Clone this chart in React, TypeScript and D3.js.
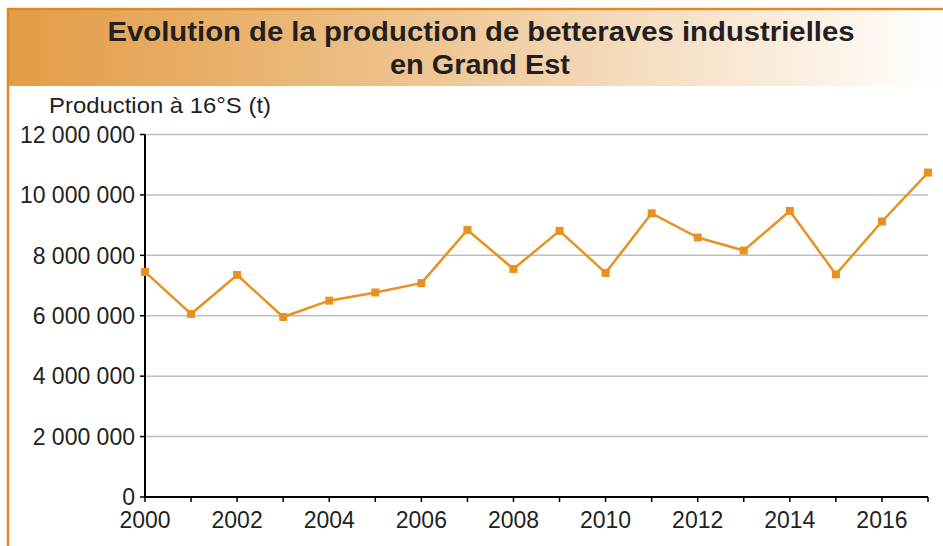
import React from "react";
import * as d3 from "d3";

const years = [2000, 2001, 2002, 2003, 2004, 2005, 2006, 2007, 2008, 2009, 2010, 2011, 2012, 2013, 2014, 2015, 2016, 2017];
const production = [7450000, 6060000, 7350000, 5960000, 6500000, 6770000, 7080000, 8840000, 7550000, 8810000, 7420000, 9390000, 8590000, 8160000, 9470000, 7370000, 9120000, 10740000];
const yTicks = [0, 2000000, 4000000, 6000000, 8000000, 10000000, 12000000];
const xLabelYears = [2000, 2002, 2004, 2006, 2008, 2010, 2012, 2014, 2016];
const titleLines = ["Evolution de la production de betteraves industrielles", "en Grand Est"];
const yAxisTitle = "Production à 16°S (t)";

const W = 943;
const H = 546;
const left = 145;
const right = 928;
const top = 134.5;
const bottom = 497;
const ORANGE = "#E8911E";
const FONT = "'Liberation Sans', Arial, Helvetica, sans-serif";

const fmt = (v: number) => d3.format(",")(v).replace(/,/g, " ");

export default function App() {
  const x = d3.scaleLinear().domain([2000, 2017]).range([left, right]);
  const y = d3.scaleLinear().domain([0, 12000000]).range([bottom, top]);
  const line = d3
    .line<number>()
    .x((_, i) => x(years[i]))
    .y((d) => y(d));

  return (
    <svg
      width={W}
      height={H}
      style={{ position: "absolute", left: 0, top: 0, display: "block", background: "#fff" }}
      fontFamily={FONT}
    >
      <defs>
        <linearGradient id="titleGrad" x1="0" x2="1" y1="0" y2="0">
          <stop offset="0%" stopColor="#E39C46" />
          <stop offset="35%" stopColor="#EBBB7E" />
          <stop offset="65%" stopColor="#F4DABA" />
          <stop offset="100%" stopColor="#FFFFFF" />
        </linearGradient>
      </defs>
      <rect x={8} y={9} width={W - 8} height={77} fill="url(#titleGrad)" />
      <line x1={7} x2={W} y1={9} y2={9} stroke="#E08A20" strokeWidth={2.5} />
      <line x1={8} x2={8} y1={8} y2={H} stroke="#E08A20" strokeWidth={2.5} />
      <text
        x={481}
        y={40.5}
        textAnchor="middle"
        fontSize={28}
        fontWeight="bold"
        fill="#231F20"
        textLength={747}
        lengthAdjust="spacingAndGlyphs"
      >
        {titleLines[0]}
      </text>
      <text
        x={480}
        y={74}
        textAnchor="middle"
        fontSize={28}
        fontWeight="bold"
        fill="#231F20"
        textLength={180}
        lengthAdjust="spacingAndGlyphs"
      >
        {titleLines[1]}
      </text>
      <text x={49} y={112.7} fontSize={22} fill="#231F20" textLength={222} lengthAdjust="spacingAndGlyphs">
        {yAxisTitle}
      </text>

      {yTicks.map((t) =>
        t === 0 ? null : (
          <line key={"g" + t} x1={left} x2={right} y1={y(t)} y2={y(t)} stroke="#BDBDBD" strokeWidth={1.5} />
        )
      )}
      {yTicks.map((t) => (
        <g key={"yt" + t}>
          <line x1={left - 5} x2={left} y1={y(t)} y2={y(t)} stroke="#000" strokeWidth={1.5} />
          <text x={135} y={y(t)} dy="0.36em" textAnchor="end" fontSize={23} fill="#231F20">
            {fmt(t)}
          </text>
        </g>
      ))}
      {years.map((yr) => (
        <line key={"xt" + yr} x1={x(yr)} x2={x(yr)} y1={bottom} y2={bottom + 5} stroke="#000" strokeWidth={1.5} />
      ))}
      {xLabelYears.map((yr) => (
        <text key={"xl" + yr} x={x(yr)} y={528} textAnchor="middle" fontSize={23} fill="#231F20">
          {yr}
        </text>
      ))}
      <line x1={left} x2={left} y1={top} y2={bottom + 1} stroke="#000" strokeWidth={2} />
      <line x1={left - 1} x2={right} y1={bottom} y2={bottom} stroke="#000" strokeWidth={2} />

      <path d={line(production) || ""} fill="none" stroke={ORANGE} strokeWidth={2.5} strokeLinejoin="round" />
      {production.map((v, i) => (
        <rect key={"m" + i} x={x(years[i]) - 4} y={y(v) - 4} width={8} height={8} fill={ORANGE} />
      ))}
    </svg>
  );
}
